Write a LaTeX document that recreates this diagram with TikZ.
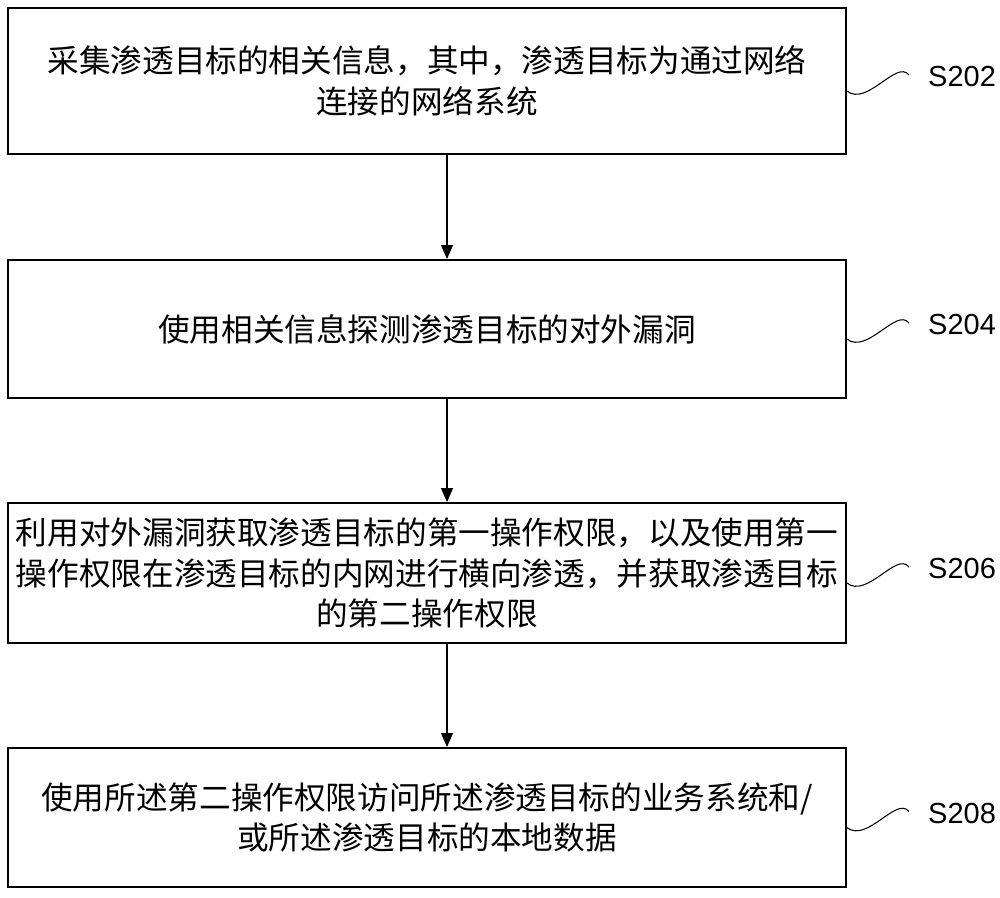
\documentclass[tikz,border=0pt]{standalone}
\usepackage{fontspec}
\setmainfont{Liberation Sans}
\newfontfamily\cjk{Noto Sans CJK SC}
\usepackage{tikz}
\usetikzlibrary{arrows.meta, calc}

\begin{document}
\begin{tikzpicture}[x=0.02cm, y=-0.02cm,
    stepbox/.style={draw, line width=1.1pt, minimum width=16.76cm, align=center,
        font=\cjk\fontsize{18}{23}\selectfont, inner sep=0pt},
    flow/.style={line width=0.6pt, -{Triangle[length=2.8mm, width=2.4mm]}},
    wave/.style={line width=0.6pt},
    steplabel/.style={font=\fontsize{16.5}{18}\selectfont, inner sep=0pt}]
        \useasboundingbox (0,0) rectangle (1000,897);
        \node[stepbox, minimum height=2.92cm] (b1) at (427,81)
            {采集渗透目标的相关信息，其中，渗透目标为通过网络\\连接的网络系统};
        \node[stepbox, minimum height=2.76cm] (b2) at (427,329)
            {使用相关信息探测渗透目标的对外漏洞};
        \node[stepbox, minimum height=2.8cm] (b3) at (427,573)
            {利用对外漏洞获取渗透目标的第一操作权限，以及使用第一\\操作权限在渗透目标的内网进行横向渗透，并获取渗透目标\\的第二操作权限};
        \node[stepbox, minimum height=2.78cm] (b4) at (427,817.5)
            {使用所述第二操作权限访问所述渗透目标的业务系统和/\\或所述渗透目标的本地数据};
        \coordinate (ax) at (447,0);
        \draw[flow] (b1.south -| ax) -- (b2.north -| ax);
        \draw[flow] (b2.south -| ax) -- (b3.north -| ax);
        \draw[flow] (b3.south -| ax) -- (b4.north -| ax);
        % step numbers
        \foreach \b/\s in {b1/S202, b2/S204, b3/S206, b4/S208} {
            \draw[wave] (\b.east) ++(0,10) .. controls +(20,16) and +(-12,-16) .. ++(62,-16) coordinate (w\b);
            \node[steplabel, anchor=west] (l\b) at ($(\b.east)+(81,-4)$) {\s};
        }
    \end{tikzpicture}
\end{document}
